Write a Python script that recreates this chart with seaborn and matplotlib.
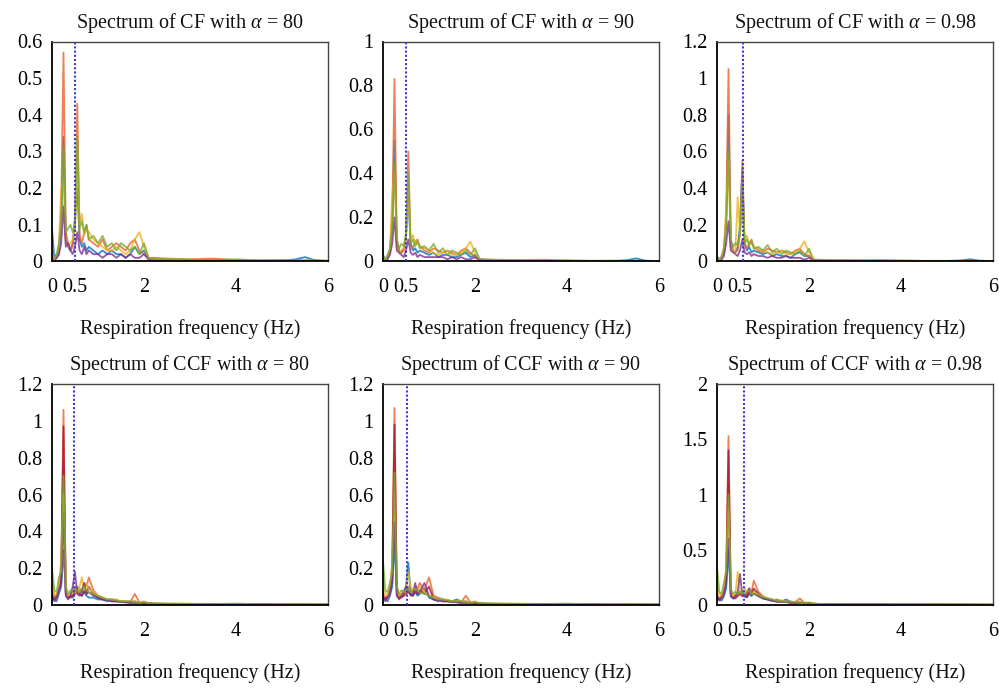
import numpy as np
import pandas as pd
import matplotlib
matplotlib.use("Agg")
import matplotlib.pyplot as plt
import seaborn as sns

# ---------------- data ----------------
freq = [0.00, 0.05, 0.10, 0.15, 0.20, 0.25, 0.30, 0.35, 0.40, 0.45,
        0.50, 0.55, 0.60, 0.65, 0.70, 0.75, 0.80, 0.90, 1.00, 1.10,
        1.20, 1.30, 1.40, 1.50, 1.60, 1.70, 1.80, 1.90, 2.00, 2.10,
        2.20, 2.50, 3.00, 3.50, 4.00, 4.50, 5.00, 5.30, 5.50, 5.70, 6.00]

titles = ["Spectrum of CF with $\\alpha$ = 80", "Spectrum of CF with $\\alpha$ = 90",
          "Spectrum of CF with $\\alpha$ = 0.98", "Spectrum of CCF with $\\alpha$ = 80",
          "Spectrum of CCF with $\\alpha$ = 90", "Spectrum of CCF with $\\alpha$ = 0.98"]
x_label = "Respiration frequency (Hz)"
x_ticks = [0, 0.5, 2, 4, 6]
x_ticklabels = ["0", "0.5", "2", "4", "6"]
y_ticks = [[0, 0.1, 0.2, 0.3, 0.4, 0.5, 0.6], [0, 0.2, 0.4, 0.6, 0.8, 1],
           [0, 0.2, 0.4, 0.6, 0.8, 1, 1.2], [0, 0.2, 0.4, 0.6, 0.8, 1, 1.2],
           [0, 0.2, 0.4, 0.6, 0.8, 1, 1.2], [0, 0.5, 1, 1.5, 2]]
y_ticklabels = [["0", "0.1", "0.2", "0.3", "0.4", "0.5", "0.6"],
                ["0", "0.2", "0.4", "0.6", "0.8", "1"],
                ["0", "0.2", "0.4", "0.6", "0.8", "1", "1.2"],
                ["0", "0.2", "0.4", "0.6", "0.8", "1", "1.2"],
                ["0", "0.2", "0.4", "0.6", "0.8", "1", "1.2"],
                ["0", "0.5", "1", "1.5", "2"]]
ref_freq = [0.50, 0.51, 0.56, 0.47, 0.53, 0.58]

# CF, alpha = 80
cf80_blue = [0.09,0.01,0.01,0.02,0.10,0.34,0.06,0.04,0.03,0.05,0.12,0.20,0.06,0.04,0.05,0.03,0.04,0.03,0.02,0.03,0.02,0.03,0.02,0.02,0.01,0.02,0.04,0.02,0.03,0.01,0.008,0.006,0.004,0.003,0.002,0.002,0.002,0.006,0.012,0.004,0.001]
cf80_orange = [0.01,0.01,0.02,0.03,0.15,0.57,0.08,0.05,0.03,0.04,0.10,0.43,0.07,0.05,0.08,0.10,0.06,0.05,0.04,0.06,0.03,0.04,0.05,0.04,0.03,0.05,0.06,0.03,0.02,0.01,0.01,0.008,0.006,0.008,0.004,0.003,0.003,0.002,0.003,0.002,0.002]
cf80_yellow = [0.02,0.01,0.01,0.04,0.20,0.22,0.05,0.04,0.05,0.06,0.09,0.26,0.10,0.13,0.07,0.09,0.08,0.06,0.05,0.04,0.03,0.03,0.04,0.03,0.02,0.03,0.06,0.08,0.04,0.01,0.007,0.006,0.005,0.004,0.003,0.003,0.002,0.002,0.002,0.002,0.002]
cf80_purple = [0.01,0.00,0.01,0.02,0.05,0.15,0.04,0.05,0.03,0.02,0.04,0.08,0.03,0.02,0.04,0.02,0.03,0.02,0.02,0.01,0.02,0.02,0.01,0.02,0.01,0.02,0.01,0.01,0.02,0.005,0.003,0.002,0.002,0.002,0.002,0.001,0.001,0.001,0.001,0.001,0.001]
cf80_green = [0.02,0.01,0.02,0.05,0.10,0.31,0.08,0.09,0.10,0.08,0.10,0.34,0.09,0.11,0.08,0.10,0.06,0.07,0.05,0.07,0.04,0.05,0.03,0.05,0.04,0.03,0.04,0.02,0.05,0.01,0.008,0.006,0.005,0.004,0.006,0.003,0.004,0.003,0.003,0.003,0.002]

# CF, alpha = 90
cf90_blue = [0.03,0.01,0.02,0.05,0.15,0.55,0.08,0.05,0.04,0.06,0.12,0.30,0.08,0.05,0.06,0.04,0.05,0.04,0.03,0.04,0.02,0.03,0.03,0.02,0.02,0.03,0.04,0.02,0.03,0.01,0.008,0.005,0.004,0.003,0.002,0.002,0.002,0.006,0.014,0.004,0.001]
cf90_orange = [0.02,0.01,0.02,0.04,0.20,0.83,0.10,0.05,0.04,0.05,0.10,0.50,0.08,0.06,0.09,0.10,0.07,0.05,0.04,0.06,0.05,0.04,0.05,0.04,0.03,0.05,0.06,0.04,0.02,0.01,0.01,0.008,0.006,0.008,0.004,0.003,0.003,0.002,0.003,0.002,0.002]
cf90_yellow = [0.02,0.01,0.02,0.05,0.30,0.40,0.06,0.04,0.05,0.06,0.12,0.30,0.10,0.12,0.08,0.09,0.07,0.06,0.05,0.04,0.03,0.04,0.05,0.03,0.03,0.04,0.06,0.09,0.04,0.01,0.007,0.006,0.005,0.004,0.003,0.003,0.002,0.002,0.002,0.002,0.002]
cf90_purple = [0.01,0.00,0.01,0.03,0.08,0.20,0.05,0.04,0.03,0.02,0.05,0.10,0.04,0.03,0.04,0.02,0.03,0.02,0.02,0.02,0.02,0.02,0.01,0.02,0.01,0.02,0.01,0.01,0.02,0.005,0.003,0.002,0.002,0.002,0.002,0.001,0.001,0.001,0.001,0.001,0.001]
cf90_green = [0.02,0.01,0.03,0.06,0.15,0.45,0.10,0.06,0.08,0.07,0.12,0.40,0.08,0.10,0.07,0.09,0.06,0.07,0.05,0.08,0.04,0.06,0.03,0.05,0.04,0.03,0.05,0.03,0.06,0.01,0.008,0.006,0.005,0.004,0.005,0.003,0.004,0.003,0.003,0.003,0.002]

# CF, alpha = 0.98
cf098_blue = [0.03,0.01,0.02,0.05,0.20,0.80,0.10,0.06,0.05,0.08,0.20,0.50,0.10,0.06,0.08,0.05,0.06,0.05,0.04,0.05,0.03,0.04,0.03,0.03,0.02,0.04,0.05,0.03,0.03,0.01,0.008,0.006,0.005,0.004,0.003,0.003,0.003,0.006,0.012,0.005,0.002]
cf098_orange = [0.02,0.01,0.02,0.05,0.25,1.05,0.12,0.06,0.05,0.06,0.15,0.55,0.10,0.07,0.10,0.12,0.08,0.06,0.05,0.07,0.06,0.05,0.06,0.05,0.04,0.06,0.07,0.04,0.03,0.01,0.01,0.008,0.006,0.008,0.005,0.004,0.003,0.003,0.003,0.003,0.002]
cf098_yellow = [0.02,0.01,0.02,0.06,0.30,0.55,0.08,0.05,0.06,0.35,0.15,0.30,0.12,0.14,0.09,0.10,0.08,0.07,0.06,0.05,0.04,0.05,0.06,0.04,0.04,0.05,0.07,0.11,0.05,0.01,0.008,0.007,0.006,0.005,0.004,0.003,0.003,0.003,0.002,0.002,0.002]
cf098_purple = [0.01,0.00,0.01,0.03,0.10,0.22,0.06,0.05,0.04,0.03,0.06,0.12,0.05,0.04,0.05,0.03,0.04,0.03,0.03,0.02,0.03,0.02,0.02,0.03,0.02,0.02,0.02,0.01,0.02,0.005,0.003,0.002,0.002,0.002,0.002,0.001,0.001,0.001,0.001,0.001,0.001]
cf098_green = [0.02,0.01,0.03,0.08,0.20,0.60,0.12,0.08,0.10,0.09,0.15,0.43,0.10,0.12,0.09,0.11,0.07,0.08,0.06,0.09,0.05,0.07,0.04,0.06,0.05,0.04,0.06,0.03,0.07,0.01,0.008,0.006,0.005,0.004,0.005,0.003,0.004,0.003,0.003,0.003,0.002]

# CCF, alpha = 80
ccf80_blue = [0.05,0.03,0.02,0.06,0.10,0.30,0.06,0.04,0.05,0.04,0.08,0.10,0.06,0.05,0.07,0.05,0.04,0.04,0.03,0.03,0.02,0.03,0.02,0.02,0.015,0.02,0.015,0.01,0.015,0.01,0.008,0.006,0.005,0.004,0.004,0.003,0.003,0.002,0.002,0.002,0.002]
ccf80_orange = [0.08,0.05,0.04,0.10,0.20,1.06,0.08,0.05,0.06,0.05,0.10,0.08,0.09,0.07,0.12,0.10,0.15,0.08,0.05,0.04,0.03,0.03,0.025,0.02,0.02,0.015,0.06,0.015,0.01,0.01,0.008,0.007,0.006,0.005,0.004,0.004,0.003,0.003,0.003,0.002,0.002]
ccf80_darkred = [0.04,0.03,0.05,0.08,0.15,0.97,0.06,0.04,0.04,0.05,0.06,0.07,0.06,0.05,0.08,0.06,0.10,0.06,0.04,0.03,0.03,0.02,0.02,0.02,0.015,0.015,0.02,0.01,0.01,0.008,0.006,0.005,0.004,0.004,0.003,0.003,0.002,0.002,0.002,0.002,0.002]
ccf80_yellow = [0.12,0.06,0.05,0.10,0.25,0.60,0.07,0.05,0.06,0.08,0.07,0.06,0.10,0.15,0.08,0.12,0.09,0.07,0.05,0.04,0.03,0.03,0.03,0.02,0.02,0.02,0.02,0.015,0.02,0.01,0.008,0.008,0.007,0.006,0.005,0.005,0.004,0.003,0.003,0.003,0.002]
ccf80_purple = [0.06,0.02,0.04,0.08,0.12,0.50,0.05,0.03,0.05,0.10,0.18,0.06,0.05,0.08,0.12,0.06,0.07,0.05,0.04,0.03,0.025,0.02,0.02,0.015,0.015,0.01,0.01,0.01,0.01,0.008,0.006,0.005,0.004,0.004,0.003,0.003,0.002,0.002,0.002,0.002,0.002]
ccf80_green = [0.20,0.08,0.07,0.15,0.18,0.70,0.10,0.06,0.08,0.07,0.09,0.08,0.07,0.09,0.10,0.08,0.07,0.06,0.05,0.04,0.03,0.03,0.025,0.02,0.02,0.02,0.015,0.01,0.015,0.01,0.008,0.007,0.006,0.005,0.008,0.004,0.004,0.003,0.003,0.003,0.002]

# CCF, alpha = 90
ccf90_blue = [0.05,0.03,0.02,0.05,0.10,0.35,0.06,0.04,0.05,0.06,0.10,0.23,0.06,0.05,0.07,0.05,0.06,0.09,0.04,0.03,0.02,0.03,0.02,0.02,0.03,0.02,0.015,0.01,0.015,0.01,0.008,0.006,0.005,0.004,0.004,0.003,0.003,0.002,0.002,0.002,0.002]
ccf90_orange = [0.06,0.04,0.04,0.08,0.22,1.07,0.10,0.05,0.06,0.05,0.08,0.10,0.08,0.07,0.10,0.09,0.12,0.08,0.15,0.05,0.04,0.03,0.025,0.02,0.02,0.015,0.05,0.015,0.01,0.01,0.008,0.007,0.006,0.005,0.004,0.004,0.003,0.003,0.003,0.002,0.002]
ccf90_darkred = [0.04,0.03,0.05,0.08,0.15,0.98,0.06,0.04,0.04,0.05,0.06,0.07,0.06,0.05,0.08,0.06,0.08,0.06,0.10,0.03,0.03,0.02,0.02,0.02,0.015,0.015,0.02,0.01,0.01,0.008,0.006,0.005,0.004,0.004,0.003,0.003,0.002,0.002,0.002,0.002,0.002]
ccf90_yellow = [0.10,0.06,0.05,0.10,0.22,0.50,0.07,0.05,0.06,0.08,0.08,0.18,0.10,0.08,0.09,0.07,0.10,0.07,0.05,0.04,0.03,0.03,0.03,0.02,0.02,0.02,0.02,0.015,0.02,0.01,0.008,0.008,0.007,0.006,0.005,0.005,0.004,0.003,0.003,0.003,0.002]
ccf90_purple = [0.05,0.02,0.04,0.06,0.12,0.45,0.05,0.03,0.05,0.07,0.10,0.08,0.05,0.06,0.12,0.06,0.07,0.12,0.05,0.03,0.025,0.02,0.02,0.015,0.015,0.01,0.01,0.01,0.01,0.008,0.006,0.005,0.004,0.004,0.003,0.003,0.002,0.002,0.002,0.002,0.002]
ccf90_green = [0.24,0.08,0.07,0.12,0.18,0.72,0.10,0.06,0.08,0.07,0.08,0.09,0.07,0.08,0.09,0.08,0.07,0.06,0.05,0.04,0.03,0.03,0.025,0.02,0.02,0.02,0.015,0.01,0.015,0.01,0.008,0.007,0.006,0.005,0.008,0.004,0.004,0.003,0.003,0.003,0.002]

# CCF, alpha = 0.98
ccf098_blue = [0.08,0.05,0.04,0.08,0.15,0.50,0.08,0.06,0.08,0.10,0.12,0.10,0.08,0.07,0.10,0.08,0.12,0.08,0.06,0.05,0.04,0.05,0.03,0.05,0.03,0.02,0.02,0.015,0.02,0.01,0.01,0.008,0.006,0.005,0.005,0.004,0.004,0.003,0.003,0.003,0.002]
ccf098_orange = [0.10,0.06,0.06,0.12,0.30,1.53,0.12,0.08,0.08,0.10,0.12,0.10,0.10,0.08,0.15,0.12,0.22,0.12,0.08,0.06,0.05,0.04,0.04,0.03,0.03,0.025,0.06,0.02,0.015,0.012,0.01,0.008,0.007,0.006,0.005,0.005,0.004,0.004,0.003,0.003,0.003]
ccf098_darkred = [0.06,0.05,0.08,0.12,0.25,1.40,0.10,0.06,0.06,0.08,0.10,0.08,0.08,0.07,0.12,0.10,0.15,0.10,0.06,0.05,0.04,0.03,0.03,0.03,0.02,0.02,0.03,0.015,0.012,0.01,0.008,0.007,0.006,0.005,0.004,0.004,0.003,0.003,0.003,0.002,0.002]
ccf098_yellow = [0.15,0.10,0.08,0.15,0.35,0.85,0.10,0.08,0.10,0.30,0.12,0.10,0.15,0.12,0.14,0.10,0.12,0.09,0.07,0.06,0.05,0.04,0.04,0.03,0.03,0.03,0.03,0.02,0.025,0.015,0.01,0.01,0.009,0.008,0.007,0.006,0.005,0.005,0.004,0.004,0.003]
ccf098_purple = [0.08,0.04,0.06,0.10,0.20,0.60,0.08,0.06,0.08,0.12,0.28,0.10,0.08,0.10,0.15,0.09,0.10,0.08,0.06,0.05,0.04,0.03,0.03,0.025,0.02,0.02,0.015,0.015,0.012,0.01,0.008,0.007,0.006,0.005,0.004,0.004,0.003,0.003,0.003,0.002,0.002]
ccf098_green = [0.35,0.12,0.10,0.20,0.30,1.00,0.15,0.10,0.12,0.10,0.12,0.11,0.10,0.12,0.13,0.10,0.10,0.09,0.07,0.06,0.05,0.04,0.035,0.03,0.03,0.025,0.02,0.015,0.02,0.012,0.01,0.009,0.008,0.007,0.01,0.006,0.005,0.004,0.004,0.004,0.003]

panels = [
    {"blue": cf80_blue, "orange": cf80_orange, "yellow": cf80_yellow, "purple": cf80_purple, "green": cf80_green},
    {"blue": cf90_blue, "orange": cf90_orange, "yellow": cf90_yellow, "purple": cf90_purple, "green": cf90_green},
    {"blue": cf098_blue, "orange": cf098_orange, "yellow": cf098_yellow, "purple": cf098_purple, "green": cf098_green},
    {"blue": ccf80_blue, "orange": ccf80_orange, "darkred": ccf80_darkred, "yellow": ccf80_yellow, "purple": ccf80_purple, "green": ccf80_green},
    {"blue": ccf90_blue, "orange": ccf90_orange, "darkred": ccf90_darkred, "yellow": ccf90_yellow, "purple": ccf90_purple, "green": ccf90_green},
    {"blue": ccf098_blue, "orange": ccf098_orange, "darkred": ccf098_darkred, "yellow": ccf098_yellow, "purple": ccf098_purple, "green": ccf098_green},
]

palette = {"blue": "#0072BD", "orange": "#E8622A", "darkred": "#A2142F",
           "yellow": "#EDB120", "purple": "#7E2F8E", "green": "#77AC30"}
draw_order = ["blue", "orange", "darkred", "yellow", "purple", "green"]

# ---------------- style ----------------
sns.set_theme(style="white")
plt.rcParams["font.family"] = ["Liberation Serif", "DejaVu Serif"]
plt.rcParams["mathtext.fontset"] = "custom"
plt.rcParams["mathtext.rm"] = "Liberation Serif"
plt.rcParams["mathtext.it"] = "Liberation Serif:italic"

FS = 14.5

fig = plt.figure(figsize=(9.99, 6.88), dpi=100)
W, H = 999, 688
col_left = [52, 383, 717]
row_top = [41.5, 384]
row_bot = [261.5, 605]
ax_w = 276

for i, series in enumerate(panels):
    r, c = divmod(i, 3)
    left = col_left[c] / W
    bottom = 1 - row_bot[r] / H
    height = (row_bot[r] - row_top[r]) / H
    ax = fig.add_axes([left, bottom, ax_w / W, height])

    rows = []
    for name, vals in series.items():
        assert len(vals) == len(freq), (i, name, len(vals))
        for f, v in zip(freq, vals):
            rows.append({"freq": f, "amp": v, "series": name})
    df = pd.DataFrame(rows)
    order = [s for s in draw_order if s in series]
    for s in order:
        sns.lineplot(data=df[df["series"] == s], x="freq", y="amp", color=palette[s],
                     linewidth=1.3, alpha=0.8, ax=ax, legend=False, errorbar=None)

    ax.axvline(ref_freq[i], color="#3a3ad0", linestyle=(0, (1, 1.0)), linewidth=1.5, zorder=5)

    ax.set_xlim(0, 6)
    ax.set_ylim(0, y_ticks[i][-1])
    ax.set_xticks(x_ticks)
    ax.set_xticklabels(x_ticklabels)
    ax.set_yticks(y_ticks[i])
    ax.set_yticklabels(y_ticklabels[i])
    ax.tick_params(axis="both", direction="out", length=4, width=1, colors="black",
                   labelsize=FS)
    ax.tick_params(axis="x", pad=8)
    ax.tick_params(axis="y", pad=3)
    ax.set_xlabel(x_label, fontsize=FS, labelpad=16, color="#111111")
    ax.set_ylabel("")
    ax.set_title(titles[i], fontsize=FS, pad=10, color="#111111")
    for side in ["left", "bottom"]:
        ax.spines[side].set_color("black")
        ax.spines[side].set_linewidth(1.3)
    for side in ["top", "right"]:
        ax.spines[side].set_color("#444444")
        ax.spines[side].set_linewidth(1.0)
    ax.set_facecolor("white")

fig.savefig("out.png", dpi=100, facecolor="white")
